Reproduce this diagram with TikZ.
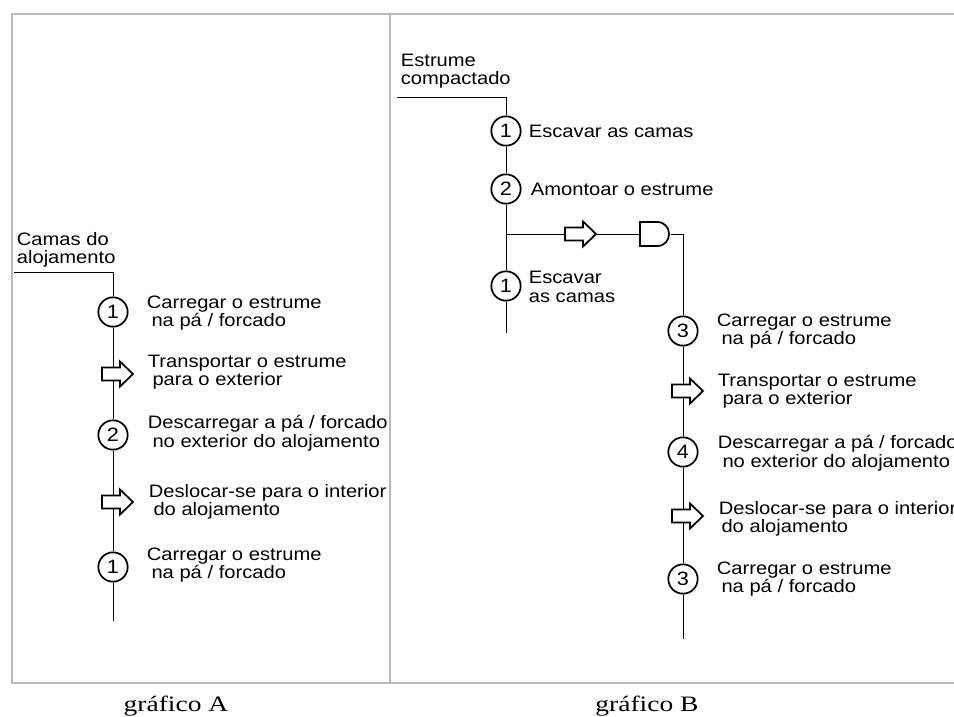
\documentclass[tikz,border=0pt]{standalone}
\usepackage{fontspec}
\setmainfont[FakeStretch=1.12]{Liberation Sans}
\newfontfamily\capfont[FakeStretch=1.25]{Liberation Serif}
\usetikzlibrary{backgrounds}
\definecolor{framegray}{RGB}{185,185,185}
\newcommand\blockarrowdraw[1]{\draw[fill=white, shift={(#1.west)}] (0,-6.5) -- (18,-6.5) -- (18,-12.5) -- (31,0) -- (18,12.5) -- (18,6.5) -- (0,6.5) -- cycle;}
\begin{document}
\begin{tikzpicture}[x=0.75pt,y=-0.75pt, line width=1.3pt,
  txt/.style={font=\fontsize{13.5}{13.9}\selectfont},
  stepc/.style={font=\fontsize{14.5}{15}\selectfont, circle, draw, fill=white, minimum size=22pt, inner sep=0pt},
  lbl/.style={txt, anchor=west, align=left, inner sep=0pt},
  arrowbox/.style={anchor=west, minimum width=23.25pt, minimum height=18.75pt, inner sep=0pt},
  gatebox/.style={anchor=west, minimum width=21.75pt, minimum height=18pt, inner sep=0pt},
  capt/.style={font=\capfont\fontsize{16.5}{18}\selectfont, anchor=base, inner sep=0pt},
  frameline/.style={draw=framegray, line width=1.3pt}]
\path[use as bounding box, clip] (0,0) rectangle (954,717);

% frame
\draw[frameline] (954,14) -- (12,14) -- (12,683) -- (954,683);
\draw[frameline] (390,14) -- (390,683);

% ---------- grafico A ----------
\node[lbl] (hA) at (16,250) {Camas do\\alojamento};
\coordinate (A0) at (14,272);
\node[stepc] (a_c1) at (113,312) {1};
\node[lbl] (a_t1) at (146,313) {Carregar o estrume\\\hspace*{3.5pt}na pá / forcado};
\node[arrowbox] (a_a1) at (102,374) {};
\blockarrowdraw{a_a1}
\node[lbl] (a_t2) at (147,372) {Transportar o estrume\\\hspace*{3.5pt}para o exterior};
\node[stepc] (a_c2) at (113,435) {2};
\node[lbl] (a_t3) at (147,433) {Descarregar a pá / forcado\\\hspace*{3.5pt}no exterior do alojamento};
\node[arrowbox] (a_a2) at (102,502) {};
\blockarrowdraw{a_a2}
\node[lbl] (a_t4) at (148,502) {Deslocar-se para o interior\\\hspace*{3.5pt}do alojamento};
\node[stepc] (a_c3) at (113,567) {1};
\node[lbl] (a_t5) at (146,565) {Carregar o estrume\\\hspace*{3.5pt}na pá / forcado};
\coordinate (Aend) at (113,621);

% ---------- grafico B ----------
\node[lbl] (hB) at (400,71) {Estrume\\compactado};
\coordinate (B0) at (397,97);
\node[stepc] (b_c1) at (506,131) {1};
\node[lbl] (b_t1) at (528,131) {Escavar as camas};
\node[stepc] (b_c2) at (506,189) {2};
\node[lbl] (b_t2) at (530,189) {Amontoar o estrume};
\coordinate (Bbr) at (506,234);
\node[arrowbox] (b_ab) at (565,234) {};
\blockarrowdraw{b_ab}
\node[gatebox] (b_g) at (640,234) {};
\draw[fill=white, shift={(b_g.west)}] (0,-12) -- (17,-12) .. controls (33,-12) and (33,12) .. (17,12) -- (0,12) -- cycle;
\node[stepc] (b_c3) at (506,286) {1};
\node[lbl] (b_t3) at (528,287) {Escavar\\as camas};
\coordinate (Bend) at (506,333);

\node[stepc] (c_c1) at (683,331) {3};
\node[lbl] (c_t1) at (716,331) {Carregar o estrume\\\hspace*{3.5pt}na pá / forcado};
\node[arrowbox] (c_a1) at (672,391) {};
\blockarrowdraw{c_a1}
\node[lbl] (c_t2) at (717,391) {Transportar o estrume\\\hspace*{3.5pt}para o exterior};
\node[stepc] (c_c2) at (683,452) {4};
\node[lbl] (c_t3) at (717,453) {Descarregar a pá / forcado\\\hspace*{3.5pt}no exterior do alojamento};
\node[arrowbox] (c_a2) at (672,516) {};
\blockarrowdraw{c_a2}
\node[lbl] (c_t4) at (718,519) {Deslocar-se para o interior\\\hspace*{2pt}do alojamento};
\node[stepc] (c_c3) at (683,579) {3};
\node[lbl] (c_t5) at (716,579) {Carregar o estrume\\\hspace*{3.5pt}na pá / forcado};
\coordinate (Cend) at (683,639);

% captions
\node[capt] (capA) at (176,711) {gráfico A};
\node[capt] (capB) at (647,711) {gráfico B};

% connectors behind
\begin{pgfonlayer}{background}
\fill[white] (0,0) rectangle (954,717);
\draw (A0) -| (a_c1);
\draw (a_c1) -- (a_c2);
\draw (a_c2) -- (a_c3);
\draw (a_c3) -- (Aend);
\draw (B0) -| (b_c1);
\draw (b_c1) -- (b_c2);
\draw (b_c2) -- (b_c3);
\draw (b_c3) -- (Bend);
\draw (Bbr) -- (b_g.west);
\draw (b_g.east) -| (c_c1);
\draw (c_c1) -- (c_c2);
\draw (c_c2) -- (c_c3);
\draw (c_c3) -- (Cend);
\end{pgfonlayer}
\end{tikzpicture}
\end{document}
